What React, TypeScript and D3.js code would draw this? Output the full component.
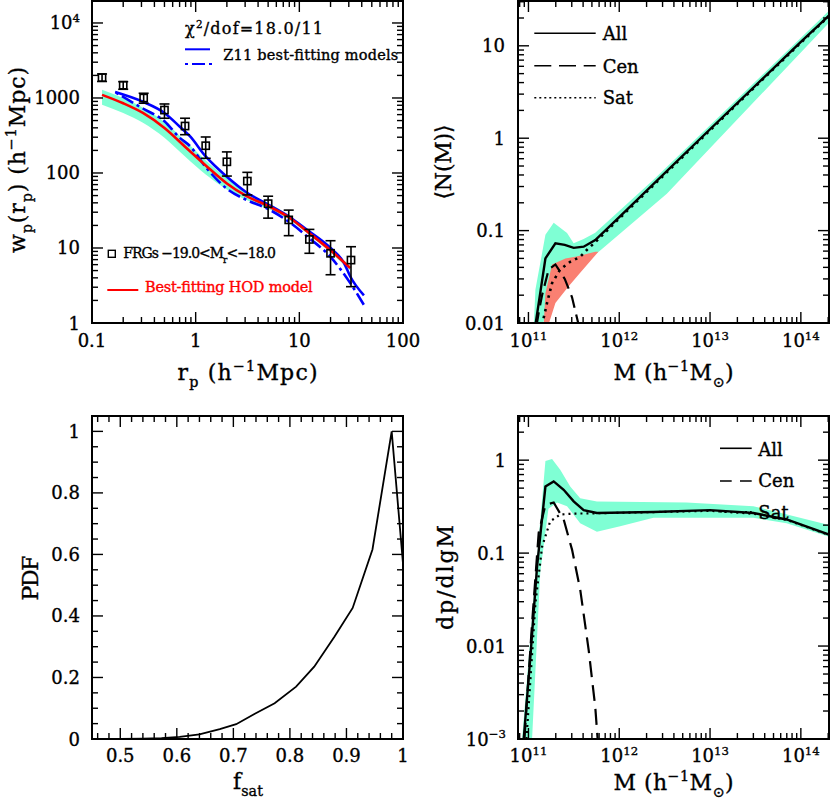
import React from 'react';
import * as d3 from 'd3';

// ---------------- Panel A: projected correlation function ----------------
const rpObs = [0.125, 0.2, 0.315, 0.5, 0.79, 1.25, 2.0, 3.15, 5.0, 7.9, 12.5, 20, 31.5];
const wpObs = [1870, 1480, 1000, 690, 423, 231, 141, 78, 39, 23.7, 13, 8.5, 6.9];
const wpErrHi = [2090, 1650, 1156, 832, 537, 302, 191, 102, 49, 32, 17.7, 12.5, 10.4];
const wpErrLo = [1660, 1306, 851, 537, 324, 157, 91, 51, 25, 14.6, 8.5, 4.4, 3.05];
const rpModel = [0.125, 0.2, 0.31, 0.5, 0.79, 1.25, 2, 3.1, 5, 7.9, 12.5, 20, 31];
const wpHOD = [1100, 850, 631, 398, 224, 126, 72.4, 49, 36.3, 25.7, 15.7, 9.3, 5.4];
const wpHODHi = [1288, 1000, 741, 479, 269, 148, 85, 55, 39.8, 27.5, 17, 10, 5.75];
const wpHODLo = [813, 631, 468, 295, 166, 95.5, 60.3, 43.6, 33.1, 24, 14.8, 8.7, 5.0];
const rpZ11a = [0.167, 0.31, 0.5, 0.7, 0.88, 1.25, 2, 3.1, 5, 7.9, 12.5, 20, 27, 31, 42];
const wpZ11a = [1202, 891, 631, 417, 309, 166, 89, 55, 38, 26.3, 16.6, 10, 6.3, 4.17, 2.34];
const rpZ11b = [0.17, 0.31, 0.5, 0.7, 0.88, 1.25, 2, 3.1, 5, 7.9, 12.5, 20, 31, 42];
const wpZ11b = [1175, 724, 490, 295, 229, 120, 61.7, 43.7, 33.1, 22.4, 13.5, 7.6, 3.4, 1.74];

// ---------------- Panel B: <N(M)> ----------------
const lgMAll = [11.077, 11.187, 11.297, 11.40, 11.498, 11.608, 11.736, 12, 13, 14, 14.31];
const nAll = [0.0095, 0.05, 0.073, 0.07, 0.065, 0.067, 0.079, 0.14, 1.25, 11, 21.2];
const lgMCen = [11.09, 11.113, 11.15, 11.223, 11.297, 11.40, 11.48, 11.55];
const nCen = [0.0095, 0.013, 0.02, 0.038, 0.043, 0.03, 0.019, 0.0098];
const lgMSat = [11.15, 11.205, 11.26, 11.35, 11.46, 11.57, 11.645, 11.736, 12, 13, 14, 14.31];
const nSat = [0.0095, 0.0165, 0.027, 0.038, 0.046, 0.052, 0.062, 0.075, 0.135, 1.22, 10.8, 21];
const lgMBandHi = [11.059, 11.077, 11.187, 11.278, 11.425, 11.498, 11.608, 11.736, 12.377, 14.31];
const nBandHi = [0.0095, 0.023, 0.09, 0.122, 0.094, 0.073, 0.081, 0.095, 0.355, 24];
const lgMBandLo = [11.16, 11.2, 11.3, 11.5, 11.755, 12.524, 14.31];
const nBandLo = [0.0095, 0.015, 0.03, 0.045, 0.057, 0.25, 17.8];
const lgMSatBandHi = [11.168, 11.187, 11.26, 11.407, 11.516, 11.736, 11.77];
const nSatBandHi = [0.0095, 0.021, 0.043, 0.05, 0.052, 0.059, 0.059];
const lgMSatBandLo = [11.22, 11.24, 11.297, 11.443, 11.57, 11.77];
const nSatBandLo = [0.0095, 0.011, 0.0165, 0.025, 0.035, 0.059];

// ---------------- Panel C: PDF of f_sat ----------------
const fsat = [0.5, 0.54, 0.573, 0.605, 0.64, 0.676, 0.705, 0.738, 0.773, 0.811, 0.843, 0.879, 0.911, 0.946, 0.98, 1.0];
const pdf = [0, 0.001, 0.003, 0.007, 0.015, 0.032, 0.048, 0.082, 0.116, 0.17, 0.235, 0.333, 0.426, 0.616, 1.0, 0.57];

// ---------------- Panel D: dp/dlgM ----------------
const lgMpAll = [10.948, 11.022, 11.095, 11.187, 11.278, 11.388, 11.498, 11.608, 11.754, 12.377, 13.0, 13.477, 13.843, 14.31];
const pAll = [0.001, 0.0078, 0.072, 0.52, 0.59, 0.48, 0.36, 0.29, 0.27, 0.277, 0.29, 0.27, 0.23, 0.158];
const lgMpCen = [10.956, 11.04, 11.113, 11.187, 11.278, 11.388, 11.48, 11.571, 11.663, 11.736, 11.762];
const pCen = [0.001, 0.0176, 0.166, 0.33, 0.35, 0.23, 0.109, 0.04, 0.0091, 0.0022, 0.001];
const lgMpSat = [10.978, 11.022, 11.077, 11.15, 11.24, 11.35, 11.5, 11.754, 12.377, 13.0, 13.477, 13.843, 14.31];
const pSat = [0.001, 0.0044, 0.029, 0.117, 0.22, 0.26, 0.266, 0.268, 0.276, 0.285, 0.265, 0.228, 0.157];
const lgMpBandHi = [10.93, 11.065, 11.187, 11.26, 11.35, 11.46, 11.57, 11.754, 12.74, 13.477, 14.31];
const pBandHi = [0.001, 0.041, 0.98, 1.03, 0.79, 0.52, 0.39, 0.36, 0.35, 0.32, 0.2];
const lgMpBandLo = [11.04, 11.13, 11.22, 11.315, 11.425, 11.57, 11.754, 12.01, 12.377, 13.477, 13.843, 14.31];
const pBandLo = [0.001, 0.062, 0.3, 0.35, 0.32, 0.21, 0.17, 0.195, 0.24, 0.24, 0.21, 0.15];

// ---------------- tick labels ----------------
type Seg = { t: string; s?: 'sub' | 'sup' };
const tlXTicks = [0.1, 1, 10, 100];
const tlXLabels = ['0.1', '1', '10', '100'];
const tlYTicks = [1, 10, 100, 1000, 10000];
const tlYLabels: Seg[][] = [[{ t: '1' }], [{ t: '10' }], [{ t: '100' }], [{ t: '1000' }], [{ t: '10' }, { t: '4', s: 'sup' }]];
const mTicks = [1e11, 1e12, 1e13, 1e14];
const mLabels: Seg[][] = [
  [{ t: '10' }, { t: '11', s: 'sup' }],
  [{ t: '10' }, { t: '12', s: 'sup' }],
  [{ t: '10' }, { t: '13', s: 'sup' }],
  [{ t: '10' }, { t: '14', s: 'sup' }],
];
const nTicks = [0.01, 0.1, 1, 10];
const nLabels = ['0.01', '0.1', '1', '10'];
const fTicks = [0.5, 0.6, 0.7, 0.8, 0.9, 1];
const fLabels = ['0.5', '0.6', '0.7', '0.8', '0.9', '1'];
const pdfTicks = [0, 0.2, 0.4, 0.6, 0.8, 1];
const pdfLabels = ['0', '0.2', '0.4', '0.6', '0.8', '1'];
const dpTicks = [0.001, 0.01, 0.1, 1];
const dpLabels: Seg[][] = [[{ t: '10' }, { t: '−3', s: 'sup' }], [{ t: '0.01' }], [{ t: '0.1' }], [{ t: '1' }]];

const FONT = "'DejaVu Serif', 'Liberation Serif', serif";
const GREEN = '#7fffd4';
const SALMON = '#fa8072';

function Rich(props: { x: number; y: number; segs: Seg[]; size: number; anchor?: string; len?: number; rot?: number; fill?: string }) {
  const { x, y, segs, size, anchor = 'start', len, rot, fill = '#000' } = props;
  let cur = 0;
  const spans = segs.map((sg, i) => {
    const target = sg.s === 'sub' ? size * 0.3 : sg.s === 'sup' ? -size * 0.4 : 0;
    const dy = target - cur;
    cur = target;
    return (
      <tspan key={i} dy={dy} fontSize={sg.s ? size * 0.65 : size}>
        {sg.t}
      </tspan>
    );
  });
  const extra: any = {};
  if (len) {
    extra.textLength = len;
    extra.lengthAdjust = 'spacing';
  }
  return (
    <text
      x={rot ? 0 : x}
      y={rot ? 0 : y}
      transform={rot ? `translate(${x},${y}) rotate(${rot})` : undefined}
      textAnchor={anchor as any}
      fontFamily={FONT}
      fontSize={size}
      fill={fill}
      stroke={fill}
      strokeWidth={0.35}
      {...extra}
    >
      {spans}
    </text>
  );
}

type Tick = { v: number; major: boolean };
function logTicks(d0: number, d1: number): Tick[] {
  const out: Tick[] = [];
  for (let k = Math.floor(Math.log10(d0)); k <= Math.ceil(Math.log10(d1)); k++) {
    for (let m = 1; m <= 9; m++) {
      const v = m * Math.pow(10, k);
      if (v >= d0 * 0.9999 && v <= d1 * 1.0001) out.push({ v, major: m === 1 });
    }
  }
  return out;
}
function linTicks(a: number, b: number, step: number, majorStep: number): Tick[] {
  const out: Tick[] = [];
  const n = Math.round((b - a) / step);
  for (let i = 0; i <= n; i++) {
    const v = a + i * step;
    const r = v / majorStep;
    out.push({ v, major: Math.abs(r - Math.round(r)) < 1e-6 });
  }
  return out;
}

function Frame(props: { x: any; y: any; xt: Tick[]; yt: Tick[] }) {
  const { x, y, xt, yt } = props;
  const [x0, x1] = x.range();
  const [y0, y1] = y.range(); // y0 bottom, y1 top
  const MJ = 11, MN = 6;
  const lines: any[] = [];
  xt.forEach((t, i) => {
    const px = x(t.v);
    const L = t.major ? MJ : MN;
    lines.push(<line key={'xb' + i} x1={px} x2={px} y1={y0} y2={y0 - L} />);
    lines.push(<line key={'xt' + i} x1={px} x2={px} y1={y1} y2={y1 + L} />);
  });
  yt.forEach((t, i) => {
    const py = y(t.v);
    const L = t.major ? MJ : MN;
    lines.push(<line key={'yl' + i} x1={x0} x2={x0 + L} y1={py} y2={py} />);
    lines.push(<line key={'yr' + i} x1={x1} x2={x1 - L} y1={py} y2={py} />);
  });
  return (
    <g stroke="#000" fill="none">
      <g strokeWidth={1.4}>{lines}</g>
      <rect x={x0} y={y1} width={x1 - x0} height={y0 - y1} strokeWidth={2} />
    </g>
  );
}

function zip(xs: number[], ys: number[]) {
  return xs.map((v, i) => [v, ys[i]] as [number, number]);
}
const P = (lg: number) => Math.pow(10, lg);

export default function App() {
  // scales
  const xTL = d3.scaleLog().domain([0.1, 100]).range([92, 403]);
  const yTL = d3.scaleLog().domain([1, Math.pow(10, 4.293)]).range([323, 1]);
  const xTR = d3.scaleLog().domain([P(10.885), P(14.31)]).range([518, 829]);
  const yTR = d3.scaleLog().domain([0.01, P(1.485)]).range([323, 1]);
  const xBL = d3.scaleLinear().domain([0.45, 1]).range([92, 403]);
  const yBL = d3.scaleLinear().domain([0, 1.05]).range([739, 416]);
  const xBR = d3.scaleLog().domain([P(10.885), P(14.31)]).range([518, 829]);
  const yBR = d3.scaleLog().domain([0.001, P(0.475)]).range([739, 416]);

  const smoothTL = d3
    .line<[number, number]>()
    .x((d) => xTL(d[0]))
    .y((d) => yTL(d[1]))
    .curve(d3.curveMonotoneX);
  const areaTL = d3
    .area<[number, number, number]>()
    .x((d) => xTL(d[0]))
    .y0((d) => yTL(d[1]))
    .y1((d) => yTL(d[2]))
    .curve(d3.curveMonotoneX);

  const lineTR = d3
    .line<[number, number]>()
    .x((d) => xTR(P(d[0])))
    .y((d) => yTR(d[1]));
  const lineBR = d3
    .line<[number, number]>()
    .x((d) => xBR(P(d[0])))
    .y((d) => yBR(d[1]));
  const lineBL = d3
    .line<[number, number]>()
    .x((d) => xBL(d[0]))
    .y((d) => yBL(d[1]));

  const polyTR = (hx: number[], hy: number[], lx: number[], ly: number[]) =>
    lineTR([...zip(hx, hy), ...zip(lx, ly).reverse()]) + 'Z';
  const polyBR = (hx: number[], hy: number[], lx: number[], ly: number[]) =>
    lineBR([...zip(hx, hy), ...zip(lx, ly).reverse()]) + 'Z';

  const tlBand = rpModel.map((r, i) => [r, wpHODLo[i], wpHODHi[i]] as [number, number, number]);

  const tickSize = 18;

  return (
    <svg width={830} height={804} style={{ position: 'absolute', left: 0, top: 0 }} fontFamily={FONT}>
      <rect x={0} y={0} width={830} height={804} fill="#fff" />
      <defs>
        <clipPath id="cTL"><rect x={92} y={1} width={311} height={322} /></clipPath>
        <clipPath id="cTR"><rect x={518} y={1} width={311} height={322} /></clipPath>
        <clipPath id="cBL"><rect x={92} y={416} width={311} height={323} /></clipPath>
        <clipPath id="cBR"><rect x={518} y={416} width={311} height={323} /></clipPath>
      </defs>

      {/* ---------- Top-left ---------- */}
      <g clipPath="url(#cTL)">
        <path d={areaTL(tlBand) || ''} fill={GREEN} stroke="none" />
        <path d={smoothTL(zip(rpZ11a, wpZ11a)) || ''} fill="none" stroke="#0000ff" strokeWidth={2.6} />
        <path
          d={smoothTL(zip(rpZ11b, wpZ11b)) || ''}
          fill="none"
          stroke="#0000ff"
          strokeWidth={2.6}
          strokeDasharray="3 4 13 4"
        />
        <path d={smoothTL(zip(rpModel, wpHOD)) || ''} fill="none" stroke="#ff0000" strokeWidth={2.6} />
        <g stroke="#000" strokeWidth={1.6} fill="none">
          {rpObs.map((r, i) => {
            const px = xTL(r);
            const hi = yTL(wpErrHi[i]);
            const lo = yTL(wpErrLo[i]);
            const py = yTL(wpObs[i]);
            return (
              <g key={i}>
                <line x1={px} x2={px} y1={hi} y2={lo} />
                <line x1={px - 5} x2={px + 5} y1={hi} y2={hi} />
                <line x1={px - 5} x2={px + 5} y1={lo} y2={lo} />
                <rect x={px - 3.6} y={py - 3.6} width={7.2} height={7.2} />
              </g>
            );
          })}
        </g>
      </g>
      <Frame x={xTL} y={yTL} xt={logTicks(0.1, 100)} yt={logTicks(1, Math.pow(10, 4.293))} />
      {tlXTicks.map((v, i) => (
        <Rich key={i} x={xTL(v)} y={347} segs={[{ t: tlXLabels[i] }]} size={tickSize} anchor="middle" />
      ))}
      {tlYTicks.map((v, i) => (
        <Rich key={i} x={80} y={yTL(v) + 6.5} segs={tlYLabels[i]} size={tickSize} anchor="end" />
      ))}
      {/* legend */}
      <Rich x={185} y={34.3} segs={[{ t: 'χ' }, { t: '2', s: 'sup' }, { t: '/dof=18.0/11' }]} size={16} len={138} />
      <line x1={185} x2={210} y1={49.3} y2={49.3} stroke="#0000ff" strokeWidth={2} />
      <line x1={185} x2={212} y1={64} y2={64} stroke="#0000ff" strokeWidth={2} strokeDasharray="3 4 13 4" />
      <Rich x={223.3} y={60} segs={[{ t: 'Z11 best-fitting models' }]} size={14.5} len={175} />
      <rect x={108.3} y={250.3} width={7} height={7} fill="none" stroke="#000" strokeWidth={1.4} />
      <Rich
        x={123.3}
        y={258.3}
        segs={[{ t: 'FRGs  −19.0<M' }, { t: 'r', s: 'sub' }, { t: '<−18.0' }]}
        size={14}
        len={152.7}
      />
      <line x1={107.3} x2={138.3} y1={290} y2={290} stroke="#ff0000" strokeWidth={2} />
      <Rich x={145} y={291.7} segs={[{ t: 'Best-fitting HOD model' }]} size={14.5} len={167.7} fill="#ff0000" />
      <Rich
        x={247.5}
        y={380}
        segs={[{ t: 'r' }, { t: 'p', s: 'sub' }, { t: '  (h' }, { t: '−1', s: 'sup' }, { t: 'Mpc)' }]}
        size={22}
        anchor="middle"
        len={140}
      />
      <Rich
        x={25}
        y={160}
        rot={-90}
        segs={[
          { t: 'w' },
          { t: 'p', s: 'sub' },
          { t: '(r' },
          { t: 'p', s: 'sub' },
          { t: ')  (h' },
          { t: '−1', s: 'sup' },
          { t: 'Mpc)' },
        ]}
        size={22}
        anchor="middle"
        len={186}
      />

      {/* ---------- Top-right ---------- */}
      <g clipPath="url(#cTR)">
        <path d={polyTR(lgMBandHi, nBandHi, lgMBandLo, nBandLo)} fill={GREEN} stroke="none" />
        <path d={polyTR(lgMSatBandHi, nSatBandHi, lgMSatBandLo, nSatBandLo)} fill={SALMON} stroke="none" />
        <path d={lineTR(zip(lgMCen, nCen)) || ''} fill="none" stroke="#000" strokeWidth={2.2} strokeDasharray="13 7" />
        <path d={lineTR(zip(lgMSat, nSat)) || ''} fill="none" stroke="#000" strokeWidth={2.6} strokeDasharray="2.5 4.5" />
        <path d={lineTR(zip(lgMAll, nAll)) || ''} fill="none" stroke="#000" strokeWidth={2.4} />
      </g>
      <Frame x={xTR} y={yTR} xt={logTicks(P(10.885), P(14.31))} yt={logTicks(0.01, P(1.485))} />
      {mTicks.map((v, i) => (
        <Rich key={i} x={xTR(v)} y={347} segs={mLabels[i]} size={tickSize} anchor="middle" />
      ))}
      {nTicks.map((v, i) => (
        <Rich key={i} x={505} y={yTR(v) + 6.5} segs={[{ t: nLabels[i] }]} size={tickSize} anchor="end" />
      ))}
      <g stroke="#000" strokeWidth={1.6}>
        <line x1={534.3} x2={595.7} y1={33.3} y2={33.3} />
        <line x1={534.3} x2={595.7} y1={65.7} y2={65.7} strokeDasharray="17 7.7" />
        <line x1={534.3} x2={595.7} y1={97.7} y2={97.7} strokeDasharray="2 3" />
      </g>
      <Rich x={602.7} y={40} segs={[{ t: 'All' }]} size={18} />
      <Rich x={602.7} y={72.7} segs={[{ t: 'Cen' }]} size={18} />
      <Rich x={602.7} y={104.3} segs={[{ t: 'Sat' }]} size={18} />
      <Rich
        x={673.5}
        y={380}
        segs={[{ t: 'M  (h' }, { t: '−1', s: 'sup' }, { t: 'M' }, { t: '⊙', s: 'sub' }, { t: ')' }]}
        size={22}
        anchor="middle"
        len={120}
      />
      <Rich x={451} y={162} rot={-90} segs={[{ t: '⟨N(M)⟩' }]} size={22} anchor="middle" len={75} />

      {/* ---------- Bottom-left ---------- */}
      <g clipPath="url(#cBL)">
        <path d={lineBL(zip(fsat, pdf)) || ''} fill="none" stroke="#000" strokeWidth={1.8} />
      </g>
      <Frame x={xBL} y={yBL} xt={linTicks(0.46, 1.0, 0.02, 0.1)} yt={linTicks(0, 1.05, 0.05, 0.2)} />
      {fTicks.map((v, i) => (
        <Rich key={i} x={xBL(v)} y={762} segs={[{ t: fLabels[i] }]} size={tickSize} anchor="middle" />
      ))}
      {pdfTicks.map((v, i) => (
        <Rich key={i} x={80} y={yBL(v) + 6.5} segs={[{ t: pdfLabels[i] }]} size={tickSize} anchor="end" />
      ))}
      <Rich x={248} y={789} segs={[{ t: 'f' }, { t: 'sat', s: 'sub' }]} size={22} anchor="middle" />
      <Rich x={38} y={578} rot={-90} segs={[{ t: 'PDF' }]} size={22} anchor="middle" len={45} />

      {/* ---------- Bottom-right ---------- */}
      <g clipPath="url(#cBR)">
        <path d={polyBR(lgMpBandHi, pBandHi, lgMpBandLo, pBandLo)} fill={GREEN} stroke="none" />
        <path d={lineBR(zip(lgMpCen, pCen)) || ''} fill="none" stroke="#000" strokeWidth={2.2} strokeDasharray="16 8" />
        <path d={lineBR(zip(lgMpSat, pSat)) || ''} fill="none" stroke="#000" strokeWidth={2.2} strokeDasharray="2 4" />
        <path d={lineBR(zip(lgMpAll, pAll)) || ''} fill="none" stroke="#000" strokeWidth={2.4} />
      </g>
      <Frame x={xBR} y={yBR} xt={logTicks(P(10.885), P(14.31))} yt={logTicks(0.001, P(0.475))} />
      {mTicks.map((v, i) => (
        <Rich key={i} x={xBR(v)} y={762} segs={mLabels[i]} size={tickSize} anchor="middle" />
      ))}
      {dpTicks.map((v, i) => (
        <Rich key={i} x={506} y={yBR(v) + 6.5} segs={dpLabels[i]} size={tickSize} anchor="end" />
      ))}
      <g stroke="#000" strokeWidth={1.6}>
        <line x1={720} x2={751.7} y1={448.3} y2={448.3} />
        <line x1={720} x2={751.7} y1={481} y2={481} strokeDasharray="11.7 8.3" />
        <line x1={720} x2={751.7} y1={511.7} y2={511.7} strokeDasharray="2 3" />
      </g>
      <Rich x={758.3} y={456} segs={[{ t: 'All' }]} size={18} />
      <Rich x={758.3} y={487} segs={[{ t: 'Cen' }]} size={18} />
      <Rich x={758.3} y={519} segs={[{ t: 'Sat' }]} size={18} />
      <Rich
        x={673.5}
        y={790}
        segs={[{ t: 'M  (h' }, { t: '−1', s: 'sup' }, { t: 'M' }, { t: '⊙', s: 'sub' }, { t: ')' }]}
        size={22}
        anchor="middle"
        len={120}
      />
      <Rich x={453} y={577.5} rot={-90} segs={[{ t: 'dp/dlgM' }]} size={22} anchor="middle" len={105} />
    </svg>
  );
}
